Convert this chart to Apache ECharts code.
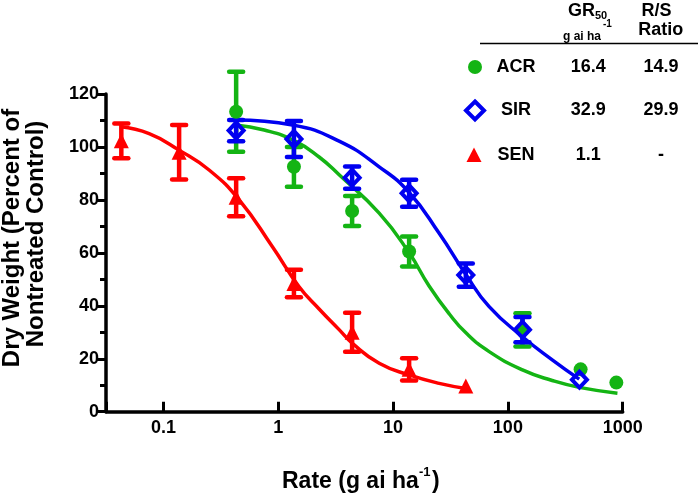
<!DOCTYPE html>
<html><head><meta charset="utf-8">
<script src="https://cdn.jsdelivr.net/npm/echarts@6/dist/echarts.min.js"></script>
<style>html,body{margin:0;padding:0;background:#fff}#c{width:700px;height:497px}</style>
</head><body><div id="c"></div>
<script>
// ---- data ----
const xTicks = [0.1, 1, 10, 100, 1000];
const xTickLabels = ['0.1', '1', '10', '100', '1000'];

const senRate = [0.043, 0.137, 0.43, 1.37, 4.4, 13.8, 43];
const senMean = [102.3, 98, 81, 48.4, 30, 16, 9.7];
const senErr  = [6.6, 10.3, 7.2, 5.2, 7.4, 4.2, 0];

const acrRate = [0.43, 1.37, 4.4, 13.8, 134, 430, 880];
const acrMean = [113.3, 92.5, 75.8, 60.5, 30.9, 16.0, 11.0];
const acrErr  = [15.1, 7.5, 5.7, 5.7, 6.3, 0, 0];

const sirRate = [0.43, 1.37, 4.4, 13.8, 43, 134, 420];
const sirMean = [106.2, 103, 88.4, 82.5, 51.6, 31, 12.1];
const sirErr  = [4, 6.8, 4.2, 5.1, 4.4, 4.8, 0];

// fitted curves, points
const senCurveX = [0.0426, 0.0751, 0.137, 0.250, 0.457, 0.890, 1.52, 2.27, 3.39, 4.43, 7.57, 13.8, 25.2, 43.1];
const senCurveY = [107.6, 105, 98.8, 91.3, 80, 62.3, 47.2, 38.8, 31, 25.8, 18.3, 13.9, 10.7, 8.8];
const acrCurveX = [0.427, 0.754, 1.375, 2.27, 3.39, 7.57, 13.8, 20.6, 30.8, 43.1, 68.7, 134, 243, 418, 900];
const acrCurveY = [108.3, 106.4, 102.4, 96.2, 89.5, 75, 60, 47.5, 37, 29.8, 22.7, 15.8, 11.8, 9.2, 7.0];
const sirCurveX = [0.427, 1.33, 3.39, 7.57, 13.8, 25.2, 43.1, 68.7, 134, 245, 418];
const sirCurveY = [110.2, 108.3, 102.2, 92.5, 82.8, 67.4, 51.8, 39.7, 28.3, 19.5, 12.3];

const legendNames = ['ACR', 'SIR', 'SEN'];
const gr50Values = ['16.4', '32.9', '1.1'];
const rsRatios = ['14.9', '29.9', '-'];

// ---- styling ----
const GREEN = '#14b414', BLUE = '#0000f0', RED = '#ff0000';
const FF = '"Liberation Sans", Arial, Helvetica, sans-serif';

const pairs = (xs, ys) => xs.map((x, i) => [x, ys[i]]);
const triples = (xs, ys, es) => xs.map((x, i) => [x, ys[i], es[i]]);

function errRender(color) {
  return function (params, api) {
    const x = api.value(0), m = api.value(1), e = api.value(2);
    if (!e) return { type: 'group', children: [] };
    const t = api.coord([x, m + e]), b = api.coord([x, m - e]);
    const w = 7;
    const st = { stroke: color, lineWidth: 4.5, lineCap: 'round' };
    return { type: 'group', children: [
      { type: 'line', shape: { x1: t[0], y1: t[1], x2: b[0], y2: b[1] }, style: { stroke: color, lineWidth: 4.5 } },
      { type: 'line', shape: { x1: t[0] - w, y1: t[1], x2: t[0] + w, y2: t[1] }, style: st },
      { type: 'line', shape: { x1: b[0] - w, y1: b[1], x2: b[0] + w, y2: b[1] }, style: st }
    ]};
  };
}

const chart = echarts.init(document.getElementById('c'), null, { renderer: 'canvas' });

const graphics = [
  { type: 'text', x: 12, y: 238, rotation: Math.PI / 2,
    style: { text: 'Dry Weight (Percent of', font: 'bold 24px ' + FF, fill: '#000', align: 'center', verticalAlign: 'middle' } },
  { type: 'text', x: 36, y: 234, rotation: Math.PI / 2,
    style: { text: 'Nontreated Control)', font: 'bold 24px ' + FF, fill: '#000', align: 'center', verticalAlign: 'middle' } },
  { type: 'text', x: 282, y: 482,
    style: { text: 'Rate (g ai ha', font: 'bold 23px ' + FF, fill: '#000', align: 'left', verticalAlign: 'middle' } },
  { type: 'text', x: 419, y: 472,
    style: { text: '-1', font: 'bold 13px ' + FF, fill: '#000', align: 'left', verticalAlign: 'middle' } },
  { type: 'text', x: 432, y: 482,
    style: { text: ')', font: 'bold 23px ' + FF, fill: '#000', align: 'left', verticalAlign: 'middle' } },
  // legend table header
  { type: 'text', x: 568, y: 11, style: { text: 'GR', font: 'bold 18px ' + FF, fill: '#000', align: 'left', verticalAlign: 'middle' } },
  { type: 'text', x: 595, y: 16, style: { text: '50', font: 'bold 11px ' + FF, fill: '#000', align: 'left', verticalAlign: 'middle' } },
  { type: 'text', x: 603, y: 24, style: { text: '-1', font: 'bold 10px ' + FF, fill: '#000', align: 'left', verticalAlign: 'middle' } },
  { type: 'text', x: 563, y: 36.5, style: { text: 'g ai ha', font: 'bold 12px ' + FF, fill: '#000', align: 'left', verticalAlign: 'middle' } },
  { type: 'text', x: 656.5, y: 11, style: { text: 'R/S', font: 'bold 18px ' + FF, fill: '#000', align: 'center', verticalAlign: 'middle' } },
  { type: 'text', x: 660.8, y: 30.5, style: { text: 'Ratio', font: 'bold 18px ' + FF, fill: '#000', align: 'center', verticalAlign: 'middle' } },
  { type: 'line', shape: { x1: 480, y1: 43.5, x2: 698, y2: 43.5 }, style: { stroke: '#000', lineWidth: 1.5 } },
  // legend symbols
  { type: 'circle', shape: { cx: 475, cy: 67, r: 7 }, style: { fill: GREEN } },
  { type: 'polygon', shape: { points: [[475, 101.5], [484, 110.5], [475, 119.5], [466, 110.5]] }, style: { fill: 'none', stroke: BLUE, lineWidth: 4 } },
  { type: 'polygon', shape: { points: [[474, 147.5], [481.5, 162], [466.5, 162]] }, style: { fill: RED } }
];
const rowY = [67.5, 110.5, 155.5];
legendNames.forEach((n, i) => {
  graphics.push({ type: 'text', x: 516, y: rowY[i], style: { text: n, font: 'bold 18px ' + FF, fill: '#000', align: 'center', verticalAlign: 'middle' } });
  graphics.push({ type: 'text', x: 588.3, y: rowY[i], style: { text: gr50Values[i], font: 'bold 18px ' + FF, fill: '#000', align: 'center', verticalAlign: 'middle' } });
  graphics.push({ type: 'text', x: 661, y: rowY[i], style: { text: rsRatios[i], font: 'bold 18px ' + FF, fill: '#000', align: 'center', verticalAlign: 'middle' } });
});

const option = {
  animation: false,
  backgroundColor: '#fff',
  grid: { left: 106, right: 77.3, top: 94, bottom: 85.3, containLabel: false },
  xAxis: {
    type: 'log', logBase: 10, min: Math.pow(10, -1.5), max: 1000,
    axisLine: { show: true, lineStyle: { color: '#000', width: 3.5 } },
    axisTick: { show: true, inside: true, length: 10, lineStyle: { color: '#000', width: 3 } },
    minorTick: { show: false },
    splitLine: { show: false },
    axisLabel: {
      color: '#000', fontWeight: 'bold', fontSize: 18, fontFamily: FF, margin: 7,
      formatter: function (v) {
        const l = Math.log10(v);
        for (let i = 0; i < xTicks.length; i++) if (Math.abs(Math.log10(xTicks[i]) - l) < 1e-6) return xTickLabels[i];
        return '';
      }
    }
  },
  yAxis: {
    type: 'value', min: 0, max: 120, interval: 20,
    axisLine: { show: true, lineStyle: { color: '#000', width: 3.5 } },
    axisTick: { show: true, inside: false, length: 9, lineStyle: { color: '#000', width: 3 } },
    minorTick: { show: true, splitNumber: 2, length: 6, lineStyle: { color: '#000', width: 3 } },
    splitLine: { show: false },
    axisLabel: { color: '#000', fontWeight: 'bold', fontSize: 18, fontFamily: FF, margin: 7 }
  },
  graphic: graphics,
  series: [
    { type: 'line', data: pairs(acrCurveX, acrCurveY), smooth: 0.5, showSymbol: false, symbol: 'none', lineStyle: { color: GREEN, width: 3.5 }, z: 2 },
    { type: 'line', data: pairs(sirCurveX, sirCurveY), smooth: 0.5, showSymbol: false, symbol: 'none', lineStyle: { color: BLUE, width: 3.5 }, z: 2 },
    { type: 'line', data: pairs(senCurveX, senCurveY), smooth: 0.5, showSymbol: false, symbol: 'none', lineStyle: { color: RED, width: 3.5 }, z: 2 },
    { type: 'custom', data: triples(acrRate, acrMean, acrErr), renderItem: errRender(GREEN), encode: { x: 0, y: 1 }, z: 3 },
    { type: 'custom', data: triples(sirRate, sirMean, sirErr), renderItem: errRender(BLUE), encode: { x: 0, y: 1 }, z: 3 },
    { type: 'custom', data: triples(senRate, senMean, senErr), renderItem: errRender(RED), encode: { x: 0, y: 1 }, z: 3 },
    { type: 'scatter', data: pairs(acrRate, acrMean), symbol: 'circle', symbolSize: 14, itemStyle: { color: GREEN, opacity: 1 }, z: 4 },
    { type: 'scatter', data: pairs(sirRate, sirMean), symbol: 'diamond', symbolSize: [15, 16], itemStyle: { color: 'rgba(0,0,0,0)', borderColor: BLUE, borderWidth: 4, opacity: 1 }, z: 5 },
    { type: 'scatter', data: pairs(senRate, senMean), symbol: 'triangle', symbolSize: 15, itemStyle: { color: RED, opacity: 1 }, z: 5 }
  ]
};
chart.setOption(option);
</script>
</body></html>
